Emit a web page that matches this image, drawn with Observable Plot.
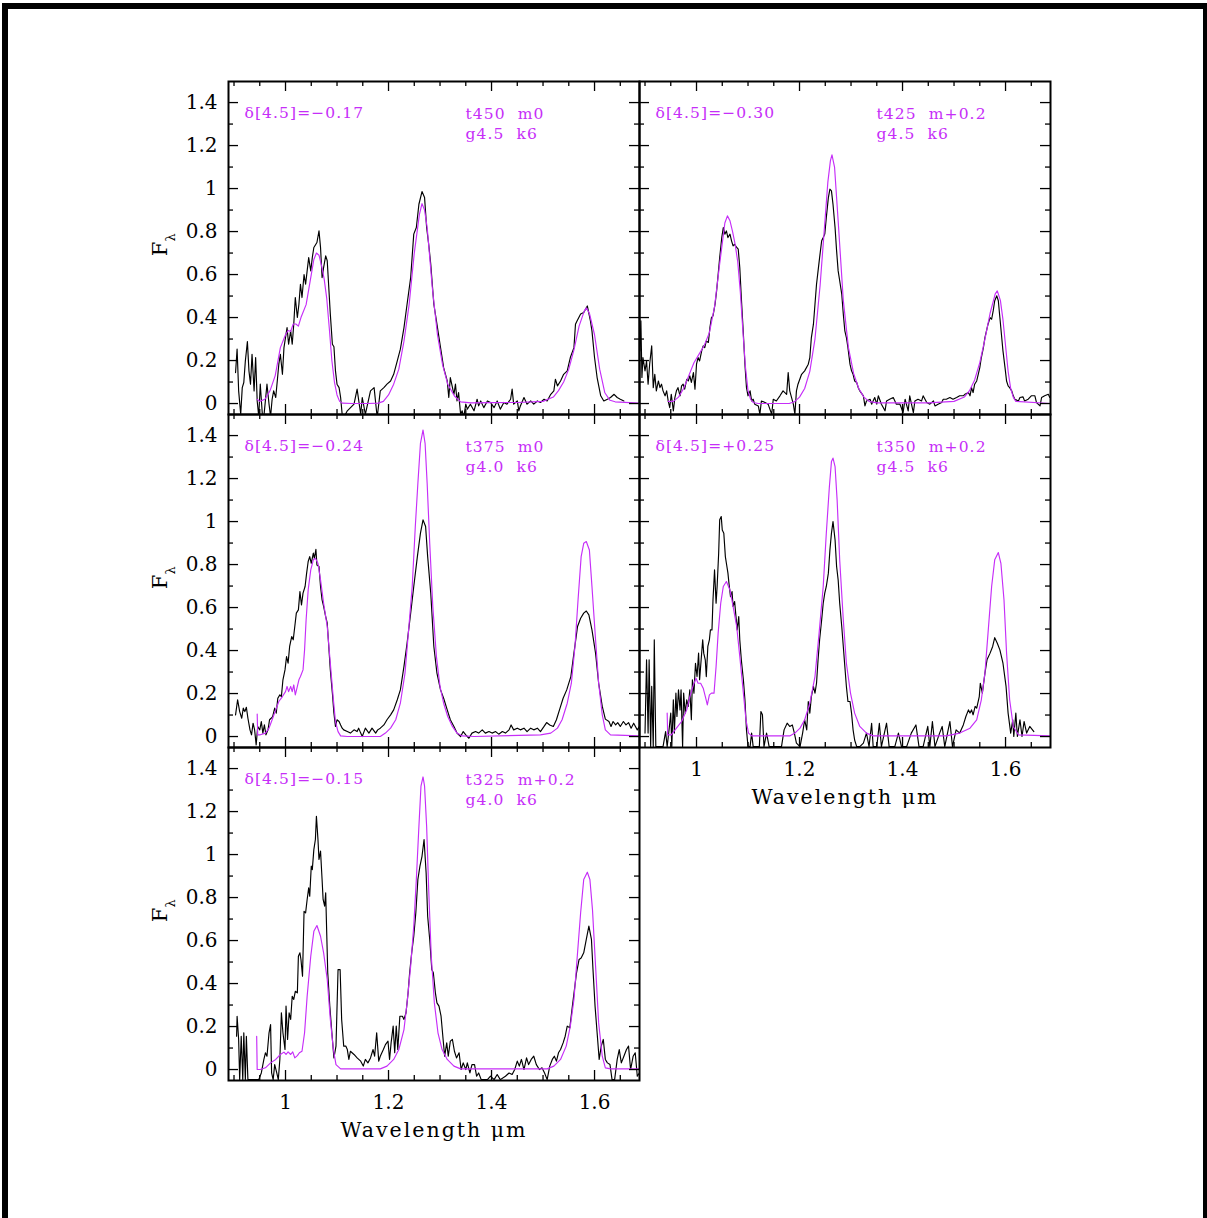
<!DOCTYPE html>
<html><head><meta charset="utf-8">
<script src="https://cdn.jsdelivr.net/npm/d3@7"></script>
<script src="https://cdn.jsdelivr.net/npm/@observablehq/plot@0.6"></script>
<style>
html,body{margin:0;padding:0;background:#fff;overflow:hidden;}
#page{position:relative;width:1207px;height:1218px;overflow:hidden;background:#fff;}
#border{position:absolute;left:2px;top:3px;width:1195px;height:1400px;border:6px solid #000;box-sizing:content-box;}
.panel{position:absolute;width:411px;height:333px;}
.panel svg{overflow:visible;}
#overlay{position:absolute;left:0;top:0;pointer-events:none;}
</style></head>
<body><div id="page"><div id="border"></div></div>
<script>
// ---------- axis ticks ----------
const xMajor = [1, 1.2, 1.4, 1.6];
const xMinor = [0.9, 0.95, 1.05, 1.1, 1.15, 1.25, 1.3, 1.35, 1.45, 1.5, 1.55, 1.65];
const yMajor = [0, 0.2, 0.4, 0.6, 0.8, 1, 1.2, 1.4];
const yMinor = [0.1, 0.3, 0.5, 0.7, 0.9, 1.1, 1.3];
const xLabelText = "Wavelength μm";

// ---------- panel labels ----------
const deltaLabels = ["δ[4.5]=−0.17", "δ[4.5]=−0.30", "δ[4.5]=−0.24", "δ[4.5]=+0.25", "δ[4.5]=−0.15"];
const modelLabels = ["t450  m0\ng4.5  k6", "t425  m+0.2\ng4.5  k6", "t375  m0\ng4.0  k6", "t350  m+0.2\ng4.5  k6", "t325  m+0.2\ng4.0  k6"];

// ---------- panel 1 ----------
const obs1 = [[0.903,0.144],[0.906,0.253],[0.909,0.059],[0.913,-0.05],[0.916,0.074],[0.919,0.098],[0.922,0.198],[0.926,0.288],[0.929,0.152],[0.932,0.09],[0.935,0.229],[0.939,0.059],[0.942,0.214],[0.945,0.012],[0.948,-0.06],[0.951,0.09],[0.955,-0.05],[0.958,-0.06],[0.964,0.09],[0.968,-0.003],[0.971,-0.06],[0.974,0.02],[0.977,0.059],[0.981,0.028],[0.984,0.105],[0.987,0.183],[0.990,0.229],[0.994,0.136],[0.997,0.26],[1.000,0.307],[1.003,0.353],[1.006,0.276],[1.010,0.338],[1.013,0.276],[1.016,0.369],[1.019,0.493],[1.023,0.40],[1.026,0.462],[1.029,0.555],[1.032,0.493],[1.036,0.60],[1.039,0.555],[1.042,0.617],[1.045,0.679],[1.049,0.617],[1.052,0.679],[1.055,0.726],[1.061,0.749],[1.065,0.803],[1.068,0.726],[1.071,0.586],[1.074,0.633],[1.078,0.687],[1.081,0.664],[1.084,0.54],[1.087,0.416],[1.091,0.276],[1.094,0.264],[1.097,0.152],[1.100,0.09],[1.104,0.074],[1.107,0.028],[1.110,-0.05],[1.113,-0.065],[1.120,-0.034],[1.133,-0.003],[1.139,0.067],[1.146,-0.05],[1.149,0.028],[1.155,-0.05],[1.165,0.059],[1.172,0.074],[1.178,-0.065],[1.184,0.059],[1.191,0.074],[1.197,0.09],[1.204,0.105],[1.210,0.136],[1.217,0.198],[1.223,0.253],[1.230,0.353],[1.236,0.462],[1.243,0.586],[1.249,0.788],[1.254,0.819],[1.259,0.927],[1.265,0.986],[1.270,0.958],[1.274,0.819],[1.278,0.741],[1.282,0.648],[1.288,0.462],[1.294,0.369],[1.301,0.26],[1.307,0.167],[1.314,0.105],[1.317,0.028],[1.320,0.121],[1.327,0.043],[1.330,0.09],[1.333,0.012],[1.336,0.051],[1.340,-0.05],[1.343,-0.034],[1.346,-0.065],[1.350,-0.003],[1.353,-0.026],[1.359,-0.003],[1.366,-0.034],[1.372,0.02],[1.375,-0.011],[1.379,0.012],[1.385,-0.019],[1.392,0.012],[1.398,0.005],[1.405,-0.019],[1.411,0.012],[1.417,-0.026],[1.424,0.005],[1.430,-0.003],[1.437,0.02],[1.440,0.067],[1.443,-0.003],[1.450,0.012],[1.453,-0.034],[1.456,-0.011],[1.463,0.028],[1.469,-0.003],[1.476,0.012],[1.482,-0.003],[1.489,0.012],[1.495,0.005],[1.502,0.02],[1.508,0.012],[1.515,0.043],[1.521,0.059],[1.524,0.113],[1.528,0.082],[1.534,0.105],[1.540,0.136],[1.547,0.152],[1.550,0.183],[1.553,0.214],[1.560,0.26],[1.563,0.369],[1.566,0.384],[1.573,0.416],[1.579,0.423],[1.586,0.454],[1.592,0.384],[1.595,0.338],[1.600,0.214],[1.605,0.121],[1.612,0.036],[1.618,0.012],[1.625,0.02],[1.631,0.028],[1.638,0.043],[1.644,0.028],[1.650,0.02],[1.657,0.012]];
const mod1 = [[0.945,0.02],[0.95,0.01],[0.96,0.02],[0.97,0.06],[0.98,0.13],[0.99,0.26],[1.0,0.32],[1.005,0.34],[1.01,0.335],[1.015,0.37],[1.02,0.37],[1.025,0.36],[1.03,0.40],[1.04,0.46],[1.05,0.60],[1.055,0.67],[1.06,0.70],[1.065,0.69],[1.07,0.64],[1.075,0.58],[1.08,0.49],[1.085,0.35],[1.09,0.20],[1.095,0.10],[1.10,0.04],[1.105,0.01],[1.11,0.002],[1.13,0],[1.16,0],[1.18,0.002],[1.19,0.01],[1.20,0.04],[1.21,0.09],[1.22,0.16],[1.23,0.29],[1.24,0.46],[1.25,0.70],[1.26,0.88],[1.265,0.93],[1.27,0.90],[1.275,0.82],[1.285,0.54],[1.295,0.32],[1.305,0.18],[1.315,0.09],[1.328,0.035],[1.34,0.008],[1.36,0.003],[1.40,0.004],[1.45,0.005],[1.50,0.01],[1.52,0.03],[1.53,0.06],[1.54,0.10],[1.55,0.16],[1.56,0.25],[1.57,0.36],[1.58,0.43],[1.584,0.445],[1.59,0.42],[1.60,0.32],[1.61,0.16],[1.62,0.05],[1.63,0.015],[1.64,0.008],[1.687,0.002]];

// ---------- panel 2 ----------
const obs2 = [[0.890,0.245],[0.892,0.385],[0.894,0.121],[0.896,0.214],[0.900,0.152],[0.903,0.198],[0.906,0.090],[0.909,0.183],[0.913,0.268],[0.916,0.074],[0.919,0.136],[0.922,0.059],[0.926,0.105],[0.929,0.074],[0.932,0.090],[0.935,0.059],[0.939,0.036],[0.942,0.059],[0.945,0.012],[0.948,-0.019],[0.951,0.043],[0.955,-0.034],[0.958,0.028],[0.961,0.059],[0.964,0.074],[0.968,0.036],[0.971,0.082],[0.974,0.090],[0.977,0.067],[0.981,0.113],[0.984,0.105],[0.987,0.129],[0.990,0.098],[0.994,0.144],[0.997,0.067],[1.000,0.183],[1.003,0.214],[1.006,0.198],[1.010,0.245],[1.013,0.268],[1.016,0.260],[1.019,0.291],[1.023,0.284],[1.026,0.353],[1.029,0.400],[1.032,0.408],[1.036,0.462],[1.039,0.524],[1.042,0.600],[1.045,0.679],[1.049,0.772],[1.052,0.819],[1.055,0.788],[1.058,0.803],[1.061,0.772],[1.065,0.788],[1.068,0.757],[1.071,0.733],[1.074,0.741],[1.078,0.726],[1.081,0.718],[1.084,0.633],[1.087,0.493],[1.091,0.322],[1.094,0.183],[1.097,0.074],[1.100,0.036],[1.104,0.059],[1.107,0.012],[1.110,0.020],[1.113,-0.003],[1.120,-0.011],[1.123,-0.050],[1.126,0.012],[1.133,0.005],[1.139,-0.003],[1.146,-0.050],[1.149,0.020],[1.155,0.012],[1.162,0.036],[1.168,0.059],[1.175,0.043],[1.178,0.144],[1.181,0.059],[1.188,-0.003],[1.191,-0.050],[1.194,0.059],[1.197,0.090],[1.204,0.136],[1.210,0.152],[1.217,0.183],[1.220,0.214],[1.223,0.307],[1.227,0.369],[1.230,0.462],[1.233,0.555],[1.236,0.617],[1.239,0.679],[1.243,0.757],[1.246,0.772],[1.249,0.788],[1.252,0.865],[1.256,0.958],[1.259,0.997],[1.262,0.989],[1.265,0.927],[1.269,0.819],[1.272,0.710],[1.275,0.617],[1.278,0.571],[1.282,0.509],[1.285,0.416],[1.288,0.338],[1.291,0.307],[1.294,0.260],[1.298,0.183],[1.301,0.152],[1.304,0.136],[1.307,0.105],[1.311,0.098],[1.314,0.074],[1.317,0.059],[1.324,0.036],[1.327,-0.011],[1.330,0.012],[1.337,0.020],[1.340,-0.003],[1.346,0.028],[1.350,-0.003],[1.353,0.036],[1.359,-0.003],[1.366,-0.034],[1.369,0.012],[1.375,0.020],[1.382,0.028],[1.388,-0.003],[1.395,-0.003],[1.401,-0.042],[1.405,0.020],[1.411,-0.034],[1.414,0.036],[1.421,-0.042],[1.424,0.012],[1.430,0.020],[1.437,0.012],[1.440,0.036],[1.447,0.005],[1.453,-0.003],[1.460,0.012],[1.463,-0.011],[1.469,-0.003],[1.476,0.005],[1.479,0.020],[1.485,0.020],[1.492,0.028],[1.498,0.020],[1.505,0.028],[1.511,0.036],[1.518,0.036],[1.521,0.043],[1.528,0.051],[1.531,0.036],[1.534,0.074],[1.537,0.051],[1.540,0.090],[1.544,0.105],[1.547,0.136],[1.550,0.167],[1.553,0.214],[1.557,0.260],[1.560,0.307],[1.563,0.338],[1.566,0.369],[1.570,0.400],[1.573,0.392],[1.576,0.431],[1.579,0.478],[1.583,0.501],[1.586,0.478],[1.589,0.400],[1.592,0.322],[1.595,0.245],[1.599,0.167],[1.602,0.105],[1.605,0.082],[1.608,0.074],[1.612,0.059],[1.615,0.036],[1.618,0.020],[1.625,0.012],[1.628,0.028],[1.634,0.031],[1.637,0.012],[1.644,0.020],[1.650,0.036],[1.657,0.036],[1.660,0.005],[1.667,-0.011],[1.670,0.028],[1.676,0.036],[1.683,0.043],[1.686,0.028]];
const mod2 = [[0.945,0.01],[0.955,0.01],[0.965,0.03],[0.975,0.07],[0.985,0.13],[0.995,0.19],[1.005,0.23],[1.015,0.27],[1.025,0.33],[1.035,0.45],[1.045,0.65],[1.055,0.84],[1.060,0.873],[1.065,0.85],[1.07,0.80],[1.075,0.74],[1.08,0.66],[1.085,0.52],[1.09,0.34],[1.095,0.17],[1.10,0.06],[1.105,0.02],[1.11,0.005],[1.12,0],[1.18,0],[1.19,0.008],[1.20,0.03],[1.21,0.07],[1.22,0.15],[1.23,0.30],[1.24,0.55],[1.25,0.87],[1.255,1.03],[1.26,1.13],[1.263,1.157],[1.268,1.10],[1.275,0.85],[1.285,0.48],[1.295,0.26],[1.305,0.14],[1.315,0.07],[1.325,0.03],[1.335,0.01],[1.35,0.003],[1.45,0.003],[1.50,0.01],[1.52,0.03],[1.53,0.06],[1.54,0.11],[1.55,0.19],[1.56,0.30],[1.57,0.42],[1.58,0.51],[1.584,0.524],[1.59,0.48],[1.595,0.39],[1.60,0.27],[1.605,0.15],[1.61,0.07],[1.615,0.03],[1.62,0.01],[1.687,0.0]];

// ---------- panel 3 ----------
const obs3 = [[0.903,0.101],[0.907,0.171],[0.911,0.116],[0.915,0.085],[0.918,0.132],[0.921,0.116],[0.924,0.136],[0.927,0.085],[0.931,0.031],[0.934,0.008],[0.937,0.062],[0.940,0.031],[0.943,-0.039],[0.946,0.047],[0.950,0.031],[0.953,0.070],[0.956,0.016],[0.959,0.054],[0.962,0.008],[0.966,0.031],[0.969,0.078],[0.972,0.085],[0.975,0.093],[0.979,0.132],[0.982,0.109],[0.985,0.178],[0.989,0.194],[0.992,0.186],[0.995,0.264],[0.999,0.310],[1.002,0.372],[1.005,0.341],[1.008,0.419],[1.012,0.465],[1.015,0.450],[1.018,0.512],[1.021,0.574],[1.025,0.589],[1.028,0.674],[1.031,0.612],[1.034,0.667],[1.038,0.698],[1.041,0.760],[1.044,0.814],[1.047,0.837],[1.050,0.806],[1.054,0.853],[1.056,0.829],[1.059,0.871],[1.061,0.798],[1.065,0.791],[1.068,0.698],[1.071,0.636],[1.074,0.605],[1.078,0.558],[1.081,0.527],[1.084,0.419],[1.087,0.310],[1.091,0.202],[1.094,0.109],[1.097,0.047],[1.100,0.078],[1.104,0.070],[1.107,0.054],[1.110,0.039],[1.113,0.031],[1.120,0.023],[1.126,0.016],[1.133,0.031],[1.139,0.023],[1.142,0.039],[1.146,0.016],[1.149,0.0],[1.155,0.039],[1.162,0.016],[1.168,0.039],[1.175,0.016],[1.179,0.031],[1.184,0.039],[1.191,0.054],[1.197,0.078],[1.204,0.101],[1.210,0.124],[1.217,0.171],[1.223,0.217],[1.230,0.326],[1.236,0.434],[1.243,0.574],[1.249,0.698],[1.256,0.837],[1.262,0.946],[1.267,1.008],[1.272,0.977],[1.276,0.837],[1.282,0.667],[1.288,0.419],[1.294,0.295],[1.301,0.217],[1.307,0.178],[1.314,0.124],[1.320,0.078],[1.327,0.047],[1.333,0.016],[1.340,0.0],[1.345,0.023],[1.350,0.008],[1.356,-0.008],[1.362,0.016],[1.369,0.023],[1.375,0.016],[1.382,0.031],[1.388,0.016],[1.395,0.023],[1.401,0.016],[1.408,0.023],[1.414,0.011],[1.421,0.023],[1.427,0.016],[1.434,0.031],[1.438,0.054],[1.443,0.031],[1.450,0.039],[1.456,0.031],[1.463,0.039],[1.469,0.023],[1.476,0.039],[1.482,0.031],[1.489,0.039],[1.495,0.023],[1.502,0.047],[1.507,0.065],[1.513,0.054],[1.520,0.047],[1.526,0.078],[1.533,0.132],[1.539,0.178],[1.546,0.217],[1.554,0.279],[1.560,0.388],[1.567,0.512],[1.573,0.550],[1.579,0.574],[1.584,0.584],[1.589,0.566],[1.595,0.496],[1.602,0.388],[1.608,0.248],[1.615,0.140],[1.621,0.081],[1.628,0.070],[1.632,0.047],[1.636,0.070],[1.641,0.054],[1.645,0.065],[1.650,0.047],[1.656,0.070],[1.661,0.054],[1.666,0.065],[1.671,0.039],[1.676,0.062],[1.683,0.031],[1.687,0.047]];
const mod3 = [[0.945,0.105],[0.946,0.008],[0.951,0.008],[0.961,0.016],[0.968,0.039],[0.974,0.078],[0.981,0.124],[0.987,0.163],[0.994,0.186],[1.000,0.209],[1.003,0.233],[1.006,0.209],[1.010,0.233],[1.013,0.209],[1.016,0.240],[1.019,0.194],[1.023,0.233],[1.026,0.264],[1.029,0.279],[1.034,0.310],[1.037,0.403],[1.040,0.543],[1.044,0.682],[1.049,0.775],[1.054,0.822],[1.058,0.829],[1.063,0.806],[1.068,0.729],[1.074,0.620],[1.081,0.512],[1.087,0.341],[1.093,0.171],[1.097,0.070],[1.102,0.023],[1.107,0.003],[1.120,0],[1.184,0],[1.194,0.016],[1.204,0.039],[1.214,0.078],[1.223,0.155],[1.232,0.295],[1.239,0.496],[1.246,0.698],[1.252,0.977],[1.257,1.178],[1.262,1.364],[1.267,1.426],[1.271,1.364],[1.275,1.178],[1.280,0.899],[1.286,0.605],[1.293,0.372],[1.300,0.233],[1.307,0.155],[1.315,0.093],[1.324,0.047],[1.333,0.016],[1.343,0.003],[1.366,0.0],[1.495,0.008],[1.515,0.016],[1.528,0.039],[1.537,0.078],[1.547,0.155],[1.555,0.248],[1.562,0.419],[1.568,0.636],[1.574,0.837],[1.579,0.899],[1.584,0.907],[1.590,0.868],[1.595,0.698],[1.602,0.450],[1.608,0.248],[1.615,0.101],[1.621,0.031],[1.631,0.008],[1.687,0.003]];

// ---------- panel 4 ----------
const obs4 = [[0.900,0.016],[0.903,0.357],[0.906,0.016],[0.908,0.357],[0.911,-0.047],[0.913,0.233],[0.916,-0.047],[0.918,0.450],[0.921,-0.047],[0.926,-0.047],[0.935,-0.047],[0.940,0.023],[0.943,-0.047],[0.947,0.039],[0.950,0.109],[0.952,-0.047],[0.955,0.171],[0.957,0.016],[0.960,0.202],[0.962,0.093],[0.965,0.217],[0.968,0.124],[0.970,0.217],[0.973,-0.047],[0.975,0.202],[0.978,0.109],[0.981,0.171],[0.984,0.140],[0.987,0.217],[0.990,0.078],[0.992,0.264],[0.995,0.202],[0.998,0.341],[1.001,0.279],[1.004,0.388],[1.006,0.264],[1.009,0.357],[1.012,0.450],[1.014,0.388],[1.017,0.357],[1.019,0.279],[1.022,0.419],[1.025,0.450],[1.027,0.496],[1.030,0.496],[1.032,0.636],[1.035,0.775],[1.038,0.620],[1.040,0.698],[1.043,0.853],[1.045,1.008],[1.048,1.023],[1.050,0.961],[1.053,0.946],[1.056,0.837],[1.058,0.806],[1.061,0.760],[1.063,0.713],[1.066,0.651],[1.069,0.674],[1.071,0.605],[1.074,0.628],[1.076,0.574],[1.079,0.496],[1.082,0.558],[1.084,0.450],[1.087,0.357],[1.091,0.264],[1.094,0.171],[1.097,0.031],[1.100,-0.047],[1.104,-0.047],[1.107,0.016],[1.110,-0.047],[1.117,-0.047],[1.122,-0.047],[1.125,0.116],[1.128,0.101],[1.131,-0.047],[1.136,0.016],[1.141,-0.047],[1.146,-0.047],[1.155,-0.047],[1.165,-0.047],[1.170,0.031],[1.176,0.062],[1.181,0.047],[1.186,0.054],[1.190,0.016],[1.194,-0.031],[1.201,-0.047],[1.206,0.016],[1.210,0.078],[1.214,0.031],[1.217,0.163],[1.220,0.109],[1.223,0.186],[1.227,0.233],[1.230,0.202],[1.233,0.248],[1.236,0.357],[1.239,0.450],[1.243,0.543],[1.246,0.620],[1.249,0.667],[1.252,0.698],[1.256,0.760],[1.259,0.868],[1.262,0.946],[1.265,1.000],[1.269,0.915],[1.272,0.791],[1.275,0.729],[1.278,0.620],[1.282,0.512],[1.285,0.419],[1.288,0.326],[1.291,0.233],[1.294,0.163],[1.298,0.163],[1.301,0.109],[1.304,0.031],[1.307,-0.016],[1.311,-0.047],[1.317,-0.047],[1.324,-0.031],[1.330,0.016],[1.335,-0.047],[1.340,0.062],[1.343,-0.047],[1.350,-0.047],[1.355,0.062],[1.359,-0.047],[1.369,0.062],[1.374,-0.047],[1.385,-0.047],[1.392,0.016],[1.398,-0.047],[1.408,-0.047],[1.417,0.016],[1.426,0.054],[1.432,-0.047],[1.440,-0.047],[1.449,0.047],[1.453,-0.047],[1.458,0.070],[1.463,-0.047],[1.472,0.016],[1.477,0.047],[1.482,-0.047],[1.492,0.070],[1.497,-0.047],[1.504,0.031],[1.511,0.016],[1.518,0.054],[1.523,0.093],[1.528,0.124],[1.531,0.109],[1.534,0.124],[1.537,0.101],[1.541,0.140],[1.544,0.132],[1.549,0.186],[1.551,0.248],[1.555,0.202],[1.560,0.295],[1.564,0.357],[1.570,0.388],[1.575,0.419],[1.579,0.460],[1.584,0.434],[1.589,0.403],[1.595,0.341],[1.601,0.233],[1.605,0.109],[1.610,0.016],[1.614,0.078],[1.616,0.0],[1.620,0.109],[1.623,0.0],[1.628,0.078],[1.632,0.0],[1.636,0.070],[1.641,0.016],[1.647,0.047],[1.655,0.023]];
const mod4 = [[0.943,0.109],[0.944,0.008],[0.951,0.008],[0.961,0.039],[0.971,0.070],[0.981,0.124],[0.987,0.186],[0.994,0.240],[0.999,0.271],[1.003,0.248],[1.008,0.248],[1.013,0.225],[1.018,0.178],[1.021,0.147],[1.025,0.194],[1.029,0.202],[1.034,0.202],[1.038,0.326],[1.042,0.481],[1.047,0.620],[1.052,0.698],[1.058,0.721],[1.065,0.682],[1.071,0.605],[1.078,0.512],[1.084,0.372],[1.091,0.202],[1.096,0.078],[1.101,0.016],[1.107,0.003],[1.181,0.003],[1.191,0.016],[1.201,0.039],[1.210,0.078],[1.220,0.155],[1.230,0.279],[1.238,0.481],[1.246,0.698],[1.252,0.946],[1.258,1.163],[1.262,1.279],[1.265,1.295],[1.269,1.256],[1.273,1.101],[1.278,0.822],[1.285,0.543],[1.291,0.341],[1.299,0.202],[1.307,0.109],[1.317,0.047],[1.330,0.016],[1.343,0.003],[1.485,0.003],[1.511,0.016],[1.531,0.039],[1.544,0.078],[1.553,0.171],[1.560,0.295],[1.566,0.481],[1.573,0.698],[1.579,0.822],[1.586,0.856],[1.591,0.806],[1.597,0.636],[1.602,0.388],[1.608,0.171],[1.615,0.047],[1.625,0.008],[1.686,0.003]];

// ---------- panel 5 ----------
const obs5 = [[0.905,0.155],[0.906,0.248],[0.909,0.140],[0.911,-0.047],[0.914,0.155],[0.917,-0.047],[0.919,0.171],[0.922,-0.047],[0.924,0.155],[0.927,-0.047],[0.932,-0.047],[0.939,-0.047],[0.948,-0.047],[0.953,-0.016],[0.958,0.047],[0.961,0.078],[0.964,0.062],[0.968,0.171],[0.971,0.209],[0.973,-0.016],[0.976,-0.047],[0.979,0.023],[0.983,-0.016],[0.986,-0.047],[0.989,0.047],[0.992,0.264],[0.995,0.171],[0.999,0.093],[1.001,0.295],[1.004,0.140],[1.007,0.264],[1.010,0.233],[1.013,0.341],[1.016,0.326],[1.019,0.364],[1.023,0.357],[1.025,0.527],[1.028,0.543],[1.030,0.512],[1.033,0.434],[1.036,0.736],[1.039,0.729],[1.042,0.791],[1.045,0.845],[1.047,0.806],[1.050,0.946],[1.052,0.930],[1.055,1.023],[1.058,1.070],[1.060,1.178],[1.063,1.070],[1.065,0.977],[1.068,1.016],[1.071,0.884],[1.073,0.791],[1.076,0.760],[1.078,0.822],[1.082,0.450],[1.086,0.295],[1.090,0.171],[1.094,0.054],[1.098,0.109],[1.102,0.465],[1.106,0.465],[1.109,0.233],[1.113,0.109],[1.117,0.109],[1.120,0.093],[1.123,0.047],[1.126,0.085],[1.133,0.070],[1.139,0.054],[1.146,0.039],[1.151,0.016],[1.155,0.047],[1.160,0.031],[1.165,0.054],[1.170,0.093],[1.173,0.062],[1.177,0.171],[1.181,0.039],[1.184,0.062],[1.190,0.093],[1.194,0.116],[1.199,0.132],[1.202,0.047],[1.205,0.124],[1.209,0.202],[1.212,0.078],[1.215,0.202],[1.218,0.093],[1.222,0.248],[1.227,0.248],[1.230,0.233],[1.234,0.264],[1.238,0.357],[1.241,0.450],[1.245,0.543],[1.249,0.620],[1.253,0.729],[1.257,0.884],[1.261,0.946],[1.265,0.992],[1.269,1.070],[1.273,0.915],[1.276,0.713],[1.280,0.605],[1.284,0.465],[1.287,0.450],[1.291,0.357],[1.294,0.310],[1.298,0.295],[1.302,0.248],[1.306,0.140],[1.309,0.062],[1.313,0.124],[1.316,0.062],[1.320,0.132],[1.324,0.140],[1.328,0.085],[1.332,0.054],[1.337,0.078],[1.341,0.0],[1.345,0.031],[1.350,0.0],[1.353,0.031],[1.358,-0.016],[1.362,0.023],[1.367,0.023],[1.371,-0.031],[1.375,-0.016],[1.380,-0.047],[1.392,-0.047],[1.398,-0.031],[1.405,-0.047],[1.411,-0.023],[1.417,-0.047],[1.427,-0.031],[1.434,-0.016],[1.440,-0.023],[1.445,0.0],[1.450,0.039],[1.454,0.016],[1.458,0.047],[1.463,0.0],[1.468,0.054],[1.472,0.023],[1.477,0.047],[1.482,0.062],[1.487,0.023],[1.493,0.0],[1.498,0.008],[1.503,-0.016],[1.508,-0.047],[1.513,0.016],[1.518,0.047],[1.522,0.062],[1.526,0.039],[1.530,0.078],[1.534,0.093],[1.539,0.124],[1.543,0.155],[1.547,0.202],[1.552,0.194],[1.557,0.295],[1.561,0.372],[1.565,0.450],[1.570,0.512],[1.574,0.519],[1.579,0.543],[1.584,0.605],[1.589,0.667],[1.594,0.605],[1.597,0.465],[1.601,0.295],[1.605,0.171],[1.609,0.047],[1.613,0.109],[1.617,0.140],[1.621,0.047],[1.625,0.031],[1.630,0.023],[1.634,-0.047],[1.639,-0.047],[1.644,0.047],[1.648,0.093],[1.652,0.031],[1.657,0.062],[1.662,0.093],[1.666,0.109],[1.670,0.0],[1.675,0.062],[1.679,0.078],[1.683,-0.031],[1.687,-0.016]];
const mod5 = [[0.944,0.155],[0.945,0.0],[0.951,0.0],[0.961,0.008],[0.971,0.031],[0.981,0.047],[0.990,0.070],[0.997,0.081],[1.001,0.070],[1.005,0.082],[1.010,0.070],[1.014,0.082],[1.018,0.054],[1.023,0.065],[1.027,0.078],[1.032,0.085],[1.037,0.171],[1.042,0.341],[1.049,0.527],[1.055,0.643],[1.061,0.670],[1.068,0.620],[1.074,0.543],[1.081,0.419],[1.087,0.233],[1.093,0.093],[1.098,0.023],[1.107,0.003],[1.184,0.003],[1.197,0.016],[1.210,0.047],[1.220,0.093],[1.230,0.186],[1.236,0.310],[1.243,0.481],[1.249,0.667],[1.254,0.884],[1.259,1.132],[1.263,1.318],[1.267,1.361],[1.270,1.318],[1.274,1.132],[1.278,0.837],[1.283,0.527],[1.289,0.310],[1.296,0.171],[1.304,0.093],[1.314,0.047],[1.327,0.016],[1.340,0.003],[1.508,0.003],[1.521,0.016],[1.534,0.047],[1.545,0.109],[1.553,0.202],[1.560,0.326],[1.566,0.512],[1.573,0.729],[1.579,0.884],[1.586,0.918],[1.591,0.884],[1.596,0.744],[1.602,0.481],[1.608,0.217],[1.615,0.062],[1.621,0.008],[1.631,0.003],[1.687,0.003]];

// ---------- layout ----------
const W = 411, H = 333;
const MAG = "#c62ef8";
const FONT = "DejaVu Serif";
const xDomain = [0.8893, 1.6873];
const yDomain = [-0.051, 1.498];

const panels = [
  {obs: obs1, mod: mod1, i: 0, left: 228.3, top: 80.7, yLab: true, xLab: false},
  {obs: obs2, mod: mod2, i: 1, left: 639.3, top: 80.7, yLab: false, xLab: false},
  {obs: obs3, mod: mod3, i: 2, left: 228.3, top: 413.7, yLab: true, xLab: false},
  {obs: obs4, mod: mod4, i: 3, left: 639.3, top: 413.7, yLab: false, xLab: true},
  {obs: obs5, mod: mod5, i: 4, left: 228.3, top: 746.7, yLab: true, xLab: true}
];

const page = document.getElementById("page");
const fmt = d => String(d);

for (const p of panels) {
  const marks = [
    Plot.line(p.obs, {x: d => d[0], y: d => d[1], stroke: "black", strokeWidth: 1.15, clip: true}),
    Plot.line(p.mod, {x: d => d[0], y: d => d[1], stroke: MAG, strokeWidth: 1.15, clip: true}),
    Plot.tickX(xMajor, {x: d => d, insetTop: H - 10, strokeWidth: 1.3}),
    Plot.tickX(xMajor, {x: d => d, insetBottom: H - 10, strokeWidth: 1.3}),
    Plot.tickX(xMinor, {x: d => d, insetTop: H - 5, strokeWidth: 1.3}),
    Plot.tickX(xMinor, {x: d => d, insetBottom: H - 5, strokeWidth: 1.3}),
    Plot.tickY(yMajor, {y: d => d, insetRight: W - 10, strokeWidth: 1.3}),
    Plot.tickY(yMajor, {y: d => d, insetLeft: W - 10, strokeWidth: 1.3}),
    Plot.tickY(yMinor, {y: d => d, insetRight: W - 5, strokeWidth: 1.3}),
    Plot.tickY(yMinor, {y: d => d, insetLeft: W - 5, strokeWidth: 1.3}),
    Plot.frame({stroke: "black", strokeWidth: 2}),
    Plot.text([deltaLabels[p.i]], {text: d => d, frameAnchor: "top-left", dx: 16, dy: 32, textAnchor: "start", lineAnchor: "middle", fill: MAG, fontSize: 15.5}),
    Plot.text([modelLabels[p.i]], {text: d => d, frameAnchor: "top-left", dx: 237, dy: 23, textAnchor: "start", lineAnchor: "top", lineHeight: 1.3, fill: MAG, fontSize: 15.5})
  ];
  if (p.yLab) marks.push(Plot.axisY({ticks: yMajor, tickSize: 0, tickPadding: 11, tickFormat: fmt, fontSize: 20, anchor: "left", label: null}));
  if (p.xLab) {
    marks.push(Plot.axisX({ticks: xMajor, tickSize: 0, tickPadding: 14, tickFormat: fmt, fontSize: 20, anchor: "bottom", label: null}));
    marks.push(Plot.text([xLabelText], {text: d => d, frameAnchor: "bottom", dy: 50, lineAnchor: "middle", fontSize: 20.5}));
  }
  const svg = Plot.plot({
    width: W, height: H,
    marginTop: 0, marginRight: 0, marginBottom: 0, marginLeft: 0,
    x: {domain: xDomain, axis: p.xLab ? undefined : null},
    y: {domain: yDomain, axis: p.yLab ? undefined : null},
    style: {overflow: "visible", background: "transparent", fontFamily: FONT, fontSize: "20px", color: "black"},
    marks
  });
  // widen the lettering like the original plotting font
  d3.select(svg).selectAll("text").each(function () {
    const txt = this.textContent;
    if (txt.startsWith("δ") || txt.startsWith("t") || txt.startsWith("g")) this.style.letterSpacing = "1.1px";
    if (txt.startsWith("Wavelength")) this.style.letterSpacing = "2px";
  });
  const div = document.createElement("div");
  div.className = "panel";
  div.style.left = p.left + "px";
  div.style.top = p.top + "px";
  div.appendChild(svg);
  page.appendChild(div);
}

// rotated F_lambda labels, one per row
const overlay = d3.select(page).append("svg").attr("id", "overlay").attr("width", 1207).attr("height", 1218);
for (const row of [panels[0], panels[2], panels[4]]) {
  const t = overlay.append("text")
    .attr("transform", `translate(166.5,${row.top + H / 2 + 9}) rotate(-90)`)
    .attr("font-family", FONT).attr("font-size", 21).attr("fill", "black");
  t.append("tspan").text("F");
  t.append("tspan").attr("dy", 8).attr("font-size", 13).text("λ");
}
</script>
</body></html>
